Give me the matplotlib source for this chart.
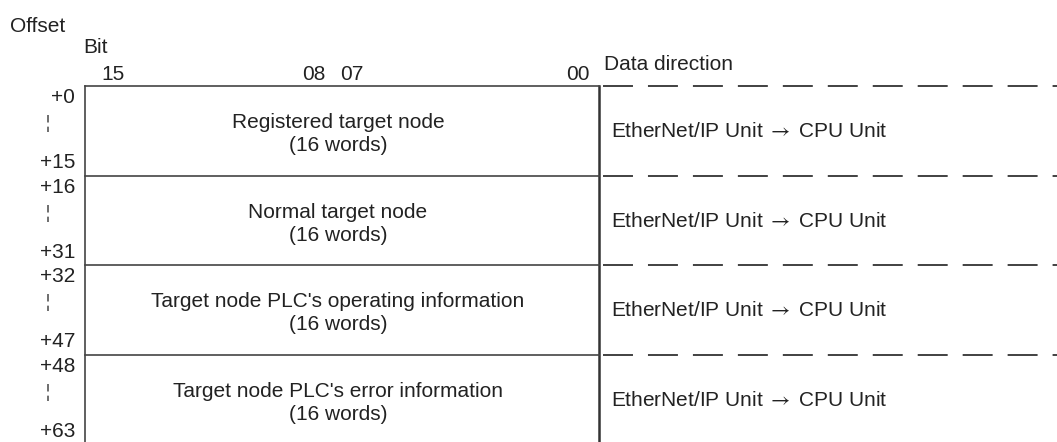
import matplotlib.pyplot as plt

plt.rcParams['font.family'] = ['Liberation Sans', 'DejaVu Sans']
plt.rcParams['mathtext.fontset'] = 'stix'

# word areas of the status table
area_names = ["Registered target node", "Normal target node",
              "Target node PLC's operating information",
              "Target node PLC's error information"]
area_sizes = ["(16 words)", "(16 words)", "(16 words)", "(16 words)"]
offset_start = [0, 16, 32, 48]
offset_end = [15, 31, 47, 63]
directions = [r"EtherNet/IP Unit $\rightarrow$ CPU Unit"] * 4
bit_labels = ["15", "08", "07", "00"]
bit_pos = [113, 314, 352, 578]

W, H = 1057, 442
fig = plt.figure(figsize=(W / 100, H / 100), dpi=100)
ax = fig.add_axes([0, 0, 1, 1])
ax.set_xlim(0, W)
ax.set_ylim(H, 0)
ax.axis('off')

fs = 15
col = '#222222'
left, mid, top, row_h = 85, 599, 86, 89.7

ax.text(10, 32, "Offset", fontsize=fs, va='baseline', ha='left', color=col)
ax.text(83, 53, "Bit", fontsize=fs, va='baseline', ha='left', color=col)
for lab, x in zip(bit_labels, bit_pos):
    ax.text(x, 80, lab, fontsize=fs, va='baseline', ha='center', color=col)
ax.text(604, 70, "Data direction", fontsize=fs, va='baseline', ha='left', color=col)

# outer box left edge and separator between table and direction column
ax.plot([left, left], [top, H + 5], color='#444444', lw=1.2)
ax.plot([mid, mid], [top, H + 5], color='#333333', lw=1.8)

for i, name in enumerate(area_names):
    y0 = top + i * row_h
    ax.plot([left, mid], [y0, y0], color='#444444', lw=1.2)
    ax.plot([603, W], [y0, y0], color='#333333', lw=1.3,
            dashes=(16.6, 8.3), dash_capstyle='butt')
    cx = 338
    ax.text(cx, y0 + 42, name, fontsize=fs, ha='center', va='baseline', color=col)
    ax.text(cx, y0 + 65, area_sizes[i], fontsize=fs, ha='center', va='baseline', color=col)
    ax.text(611, y0 + 51, directions[i], fontsize=fs, ha='left', va='baseline', color=col)
    ax.text(75, y0 + 17, "+%d" % offset_start[i], fontsize=fs, ha='right',
            va='baseline', color=col)
    ax.text(75, y0 + 82, "+%d" % offset_end[i], fontsize=fs, ha='right',
            va='baseline', color=col)
    ax.plot([48, 48], [y0 + 29, y0 + 46], color='#555555', lw=1.2,
            dashes=(4.5, 2.5))

fig.savefig('out.png', dpi=100)
